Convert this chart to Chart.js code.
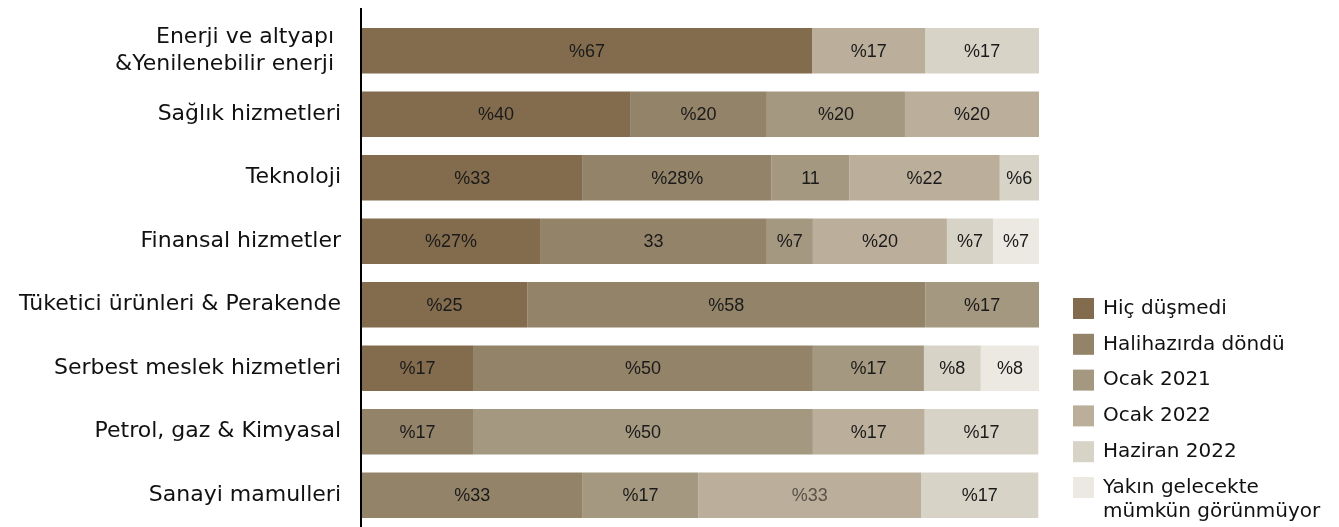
<!DOCTYPE html>
<html>
<head>
<meta charset="utf-8">
<script src="https://cdn.jsdelivr.net/npm/chart.js@4.4.1/dist/chart.umd.min.js"></script>
<style>
    body { margin: 0; background: #fff; }
    #wrap { width: 1339px; height: 527px; position: relative; }
</style>
</head>
<body>
<div id="wrap"><canvas id="barChart"></canvas></div>
<script>
// categories (top to bottom)
const categories = [
    ['Enerji ve altyapı ', '&Yenilenebilir enerji '],
    'Sağlık hizmetleri',
    'Teknoloji',
    'Finansal hizmetler',
    'Tüketici ürünleri & Perakende',
    'Serbest meslek hizmetleri',
    'Petrol, gaz & Kimyasal',
    'Sanayi mamulleri'
];

const seriesNames = ['Hiç düşmedi', 'Halihazırda döndü', 'Ocak 2021', 'Ocak 2022', 'Haziran 2022', ['Yakın gelecekte', 'mümkün görünmüyor']];
const seriesColors = ['#826c4d', '#938369', '#a59881', '#bbae9b', '#d7d3c7', '#ece9e3'];

// segment widths (share of 100)
const hicDusmedi  = [66.5, 39.6, 32.6, 26.3, 24.4, 16.4, 0, 0];
const halihazirda = [0, 20.2, 27.9, 33.5, 58.8, 50.2, 16.4, 32.6];
const ocak2021    = [0, 20.4, 11.5, 6.8, 16.8, 16.4, 50.2, 17.1];
const ocak2022    = [16.7, 19.8, 22.2, 19.8, 0, 0, 16.5, 32.9];
const haziran2022 = [16.8, 0, 5.8, 6.8, 0, 8.4, 16.8, 17.3];
const yakinDegil  = [0, 0, 0, 6.8, 0, 8.6, 0, 0];

// the texts printed on the segments
const hicLabels      = ['%67', '%40', '%33', '%27%', '%25', '%17', '', ''];
const halihazLabels  = ['', '%20', '%28%', '33', '%58', '%50', '%17', '%33'];
const ocak21Labels   = ['', '%20', '11', '%7', '%17', '%17', '%50', '%17'];
const ocak22Labels   = ['%17', '%20', '%22', '%20', '', '', '%17', '%33'];
const haziranLabels  = ['%17', '', '%6', '%7', '', '%8', '%17', '%17'];
const yakinLabels    = ['', '', '', '%7', '', '%8', '', ''];

const seriesValues = [hicDusmedi, halihazirda, ocak2021, ocak2022, haziran2022, yakinDegil];
const seriesLabels = [hicLabels, halihazLabels, ocak21Labels, ocak22Labels, haziranLabels, yakinLabels];

// writes the text in the middle of each segment
const segmentLabels = {
    id: 'segmentLabels',
    afterDatasetsDraw(chart) {
        const ctx = chart.ctx;
        ctx.save();
        ctx.font = '18px "Liberation Sans", sans-serif';
        ctx.textAlign = 'center';
        ctx.textBaseline = 'middle';
        chart.data.datasets.forEach((ds, i) => {
            chart.getDatasetMeta(i).data.forEach((bar, j) => {
                const txt = ds.segmentText[j];
                if (!txt) return;
                ctx.fillStyle = (i === 3 && j === 7) ? '#5a5249' : '#1a1a1a';
                ctx.fillText(txt, (bar.x + bar.base) / 2, bar.y + 1);
            });
        });
        ctx.restore();
    }
};

// black axis line on the left of the bars
const axisLine = {
    id: 'axisLine',
    afterDraw(chart) {
        const ctx = chart.ctx;
        const x = chart.chartArea.left - 1;
        ctx.save();
        ctx.strokeStyle = '#000';
        ctx.lineWidth = 2;
        ctx.beginPath();
        ctx.moveTo(x, 8);
        ctx.lineTo(x, chart.height);
        ctx.stroke();
        ctx.restore();
    }
};

// legend at the lower right
const sideLegend = {
    id: 'sideLegend',
    afterDraw(chart) {
        const ctx = chart.ctx;
        ctx.save();
        ctx.font = '20px "DejaVu Sans", sans-serif';
        ctx.textBaseline = 'middle';
        ctx.textAlign = 'left';
        chart.data.datasets.forEach((ds, i) => {
            const cy = 308.5 + i * 35.8;
            ctx.fillStyle = ds.backgroundColor;
            ctx.fillRect(1073, cy - 10.5, 21, 21);
            ctx.fillStyle = '#111';
            const lines = Array.isArray(ds.label) ? ds.label : [ds.label];
            lines.forEach((line, k) => ctx.fillText(line, 1103, cy + k * 24));
        });
        ctx.restore();
    }
};

const ctxBar = document.getElementById('barChart').getContext('2d');

const barChart = new Chart(ctxBar, {
    type: 'bar',
    data: {
        labels: categories,
        datasets: seriesValues.map((vals, i) => ({
            label: seriesNames[i],
            data: vals,
            segmentText: seriesLabels[i],
            backgroundColor: seriesColors[i],
            borderWidth: 0,
            barPercentage: 0.72,
            categoryPercentage: 1,
        }))
    },
    options: {
        indexAxis: 'y',
        responsive: true,
        maintainAspectRatio: false,
        animation: false,
        layout: {
            padding: { top: 19, bottom: -5, right: 300, left: 0 }
        },
        plugins: {
            legend: { display: false },
            tooltip: { enabled: false }
        },
        scales: {
            x: {
                stacked: true,
                display: false,
                min: 0,
                max: 100,
            },
            y: {
                stacked: true,
                grid: { display: false, drawTicks: false },
                border: { display: false },
                afterFit(scale) {
                    scale.width = 362;
                    scale.paddingTop = 0;
                    scale.paddingBottom = 0;
                },
                ticks: {
                    color: '#111',
                    padding: 21,
                    font: { family: '"DejaVu Sans", sans-serif', size: 22 },
                }
            }
        }
    },
    plugins: [segmentLabels, axisLine, sideLegend]
});
</script>
</body>
</html>
